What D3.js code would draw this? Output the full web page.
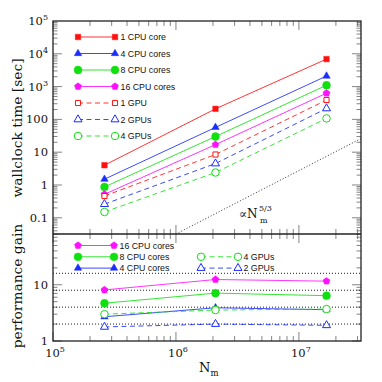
<!DOCTYPE html>
<html><head><meta charset="utf-8">
<script src="https://cdn.jsdelivr.net/npm/d3@7"></script>
<style>body{margin:0;background:#fff}svg{display:block}</style>
</head><body>
<script>
// ---- data ----
const cells = [262144, 2097152, 16777216];
const time1CPU = [4.0, 210, 6900];
const time4CPU = [1.5, 57, 2100];
const time8CPU = [0.87, 30, 1100];
const time16CPU = [0.52, 17, 630];
const time1GPU = [0.46, 8.5, 390];
const time2GPU = [0.26, 4.5, 215];
const time4GPU = [0.15, 2.4, 107];
const gain16CPU = [8.1, 12.4, 11.6];
const gain8CPU = [4.7, 7.1, 6.4];
const gain4CPU = [2.7, 3.9, 3.6];
const gain4GPU = [3.0, 3.55, 3.7];
const gain2GPU = [1.78, 2.0, 1.9];
const gainRefs = [2, 4, 8, 16];
const slopeN = [1e6, 3.2e7];
const slopeT = [0.032, 26];
const topTickLabels = ["0.1", "1", "10", "100", "10^3", "10^4", "10^5"];
const topTickValues = [0.1, 1, 10, 100, 1e3, 1e4, 1e5];
const xTickValues = [1e5, 1e6, 1e7];
const botTickValues = [1, 10];

const W = 382, H = 382;
const L = 53, R = 361, T = 21, M = 234, B = 341;
const svg = d3.select("body").append("svg").attr("width", W).attr("height", H);

const x = d3.scaleLog().domain([1e5, 3.2e7]).range([L, R]);
const yT = d3.scaleLog().domain([0.032, 1e5]).range([M, T]);
const yB = d3.scaleLog().domain([1, 80]).range([B, M]);

const RED = "#ff1010", BLUE = "#1a2cff", GREEN = "#10e010", MAG = "#ff10ff";
const pentagon = {draw(ctx, size){ const r = Math.sqrt(size/2.378); for(let i=0;i<5;i++){const a=-Math.PI/2+i*2*Math.PI/5; i?ctx.lineTo(r*Math.cos(a), r*Math.sin(a)):ctx.moveTo(r*Math.cos(a), r*Math.sin(a));} ctx.closePath();}};

const topSeries = [
  {name:"1 CPU core", v:time1CPU, c:RED, sym:d3.symbolSquare, size:30, fill:true, dash:null},
  {name:"4 CPU cores", v:time4CPU, c:BLUE, sym:d3.symbolTriangle, size:24, fill:true, dash:null},
  {name:"8 CPU cores", v:time8CPU, c:GREEN, sym:d3.symbolCircle, size:48, fill:true, dash:null},
  {name:"16 CPU cores", v:time16CPU, c:MAG, sym:pentagon, size:32, fill:true, dash:null},
  {name:"1 GPU", v:time1GPU, c:RED, sym:d3.symbolSquare, size:26, fill:false, dash:"5,3.5"},
  {name:"2 GPUs", v:time2GPU, c:BLUE, sym:d3.symbolTriangle, size:28, fill:false, dash:"5,3.5"},
  {name:"4 GPUs", v:time4GPU, c:GREEN, sym:d3.symbolCircle, size:44, fill:false, dash:"5,3.5"}
];
const botSeries = [
  {name:"16 CPU cores", v:gain16CPU, c:MAG, sym:pentagon, size:32, fill:true, dash:null, col:0, row:0},
  {name:"8 CPU cores", v:gain8CPU, c:GREEN, sym:d3.symbolCircle, size:48, fill:true, dash:null, col:0, row:1},
  {name:"4 CPU cores", v:gain4CPU, c:BLUE, sym:d3.symbolTriangle, size:24, fill:true, dash:null, col:0, row:2},
  {name:"4 GPUs", v:gain4GPU, c:GREEN, sym:d3.symbolCircle, size:44, fill:false, dash:"5,3.5", col:1, row:1},
  {name:"2 GPUs", v:gain2GPU, c:BLUE, sym:d3.symbolTriangle, size:28, fill:false, dash:"5,3.5", col:1, row:2}
];

const defs = svg.append("defs");
defs.append("clipPath").attr("id","clipT").append("rect").attr("x",L).attr("y",T).attr("width",R-L).attr("height",M-T);

function drawMarker(g, s, px, py){
  g.append("path").attr("d", d3.symbol().type(s.sym).size(s.size)())
    .attr("transform", `translate(${px},${py})`)
    .attr("fill", s.fill ? s.c : "#fff").attr("stroke", s.c).attr("stroke-width", s.fill?0.5:1);
}
function drawSeries(g, s, yS){
  const line = d3.line().x((d,i)=>x(cells[i])).y(d=>yS(d));
  g.append("path").datum(s.v).attr("d", line).attr("fill","none").attr("stroke", s.c)
    .attr("stroke-width",1).attr("stroke-dasharray", s.dash).attr("opacity", 0.85);
  s.v.forEach((d,i)=>drawMarker(g, s, x(cells[i]), yS(d)));
}

function minorTicks(scale){ return scale.ticks(40).filter(v=>v>=scale.domain()[0] && v<=scale.domain()[1]); }
const tickG = svg.append("g").attr("stroke","#666").attr("stroke-width",0.8);
function isMajor(v){ return Math.abs(Math.log10(v) - Math.round(Math.log10(v))) < 1e-9; }
minorTicks(x).forEach(v=>{
  const len = isMajor(v) ? 9 : 5;
  const px = x(v);
  tickG.append("line").attr("x1",px).attr("x2",px).attr("y1",T).attr("y2",T+len);
  tickG.append("line").attr("x1",px).attr("x2",px).attr("y1",M).attr("y2",M-len);
  tickG.append("line").attr("x1",px).attr("x2",px).attr("y1",M).attr("y2",M+len);
  tickG.append("line").attr("x1",px).attr("x2",px).attr("y1",B).attr("y2",B-len);
});
d3.range(-2, 5).forEach(e=>{ for(let k=1;k<=9;k++){ const v=k*Math.pow(10,e); if(v<yT.domain()[0]||v>yT.domain()[1]) continue;
  const len = k===1?9:4.5; const py=yT(v);
  tickG.append("line").attr("x1",L).attr("x2",L+len).attr("y1",py).attr("y2",py);
  tickG.append("line").attr("x1",R).attr("x2",R-len).attr("y1",py).attr("y2",py);
}});
d3.range(0, 2).forEach(e=>{ for(let k=1;k<=9;k++){ const v=k*Math.pow(10,e); if(v<yB.domain()[0]||v>yB.domain()[1]) continue;
  const len = k===1?9:4.5; const py=yB(v);
  tickG.append("line").attr("x1",L).attr("x2",L+len).attr("y1",py).attr("y2",py);
  tickG.append("line").attr("x1",R).attr("x2",R-len).attr("y1",py).attr("y2",py);
}});

const gT = svg.append("g");
gT.append("path").datum(slopeN).attr("clip-path","url(#clipT)")
  .attr("d", d3.line().x(d=>x(d)).y((d,i)=>yT(slopeT[i])))
  .attr("fill","none").attr("stroke","#333").attr("stroke-width",1).attr("stroke-dasharray","1,2");

topSeries.forEach(s=>drawSeries(gT, s, yT));

const gB = svg.append("g");
gainRefs.forEach(r=>{
  gB.append("line").attr("x1",L).attr("x2",R).attr("y1",yB(r)).attr("y2",yB(r))
    .attr("stroke","#222").attr("stroke-width",1).attr("stroke-dasharray","1,2");
});
botSeries.forEach(s=>drawSeries(gB, s, yB));

svg.append("rect").attr("x",L).attr("y",T).attr("width",R-L).attr("height",B-T)
  .attr("fill","none").attr("stroke","#222").attr("stroke-width",1.3);
svg.append("line").attr("x1",L).attr("x2",R).attr("y1",M).attr("y2",M).attr("stroke","#222").attr("stroke-width",1.3);

const legFont = "'Liberation Sans', Arial, sans-serif";
function legendRow(s, x0, x1, y){
  const g = svg.append("g");
  g.append("line").attr("x1",x0).attr("x2",x1).attr("y1",y).attr("y2",y).attr("stroke",s.c)
    .attr("stroke-width",1).attr("stroke-dasharray",s.dash).attr("opacity",0.85);
  drawMarker(g, s, x0, y); drawMarker(g, s, x1, y);
  g.append("text").attr("x",x1+5.5).attr("y",y).attr("dy","0.35em").attr("font-family",legFont)
    .attr("font-size",8.8).attr("fill","#111").text(s.name);
}
topSeries.forEach((s,i)=>legendRow(s, 78, 115, 37 + i*16.5));
botSeries.forEach(s=>legendRow(s, s.col? 201:78, s.col? 238:114, 245.5 + s.row*11.3));

const serif = "'DejaVu Serif', 'Liberation Serif', serif";
function powLabel(g, txt, px, py, anchor){
  const t = g.append("text").attr("x",px).attr("y",py).attr("font-family",serif).attr("font-size",11.5)
    .attr("fill","#111").attr("text-anchor",anchor);
  const parts = txt.split("^");
  t.append("tspan").text(parts[0]);
  if(parts[1]) t.append("tspan").attr("font-size",8).attr("dy",-5).text(parts[1]);
  return t;
}
const lab = svg.append("g");
topTickValues.forEach((v,i)=>powLabel(lab, topTickLabels[i], 48, yT(v)+4, "end"));
botTickValues.forEach(v=>powLabel(lab, String(v), 48, yB(v)+4, "end"));
xTickValues.forEach(v=>powLabel(lab, "10^"+Math.round(Math.log10(v)), x(v)+2, 357, "middle"));

svg.append("text").attr("transform",`translate(22,${128}) rotate(-90)`).attr("text-anchor","middle")
  .attr("font-family",serif).attr("font-size",13.8).attr("fill","#111").text("wallclock time [sec]");
svg.append("text").attr("transform",`translate(22,${286}) rotate(-90)`).attr("text-anchor","middle")
  .attr("font-family",serif).attr("font-size",13.8).attr("fill","#111").text("performance gain");
const nm = svg.append("text").attr("x",199).attr("y",372).attr("font-family",serif).attr("font-size",13).attr("fill","#111");
nm.append("tspan").text("N");
nm.append("tspan").attr("font-size",8.5).attr("dy",4).text("m");

const sl = svg.append("g").attr("font-family",serif).attr("fill","#111");
sl.append("text").attr("x",239).attr("y",218).attr("font-size",12).text("∝N");
sl.append("text").attr("x",260).attr("y",223).attr("font-size",8).text("m");
sl.append("text").attr("x",259).attr("y",211).attr("font-size",8).text("5/3");
</script>
</body></html>
